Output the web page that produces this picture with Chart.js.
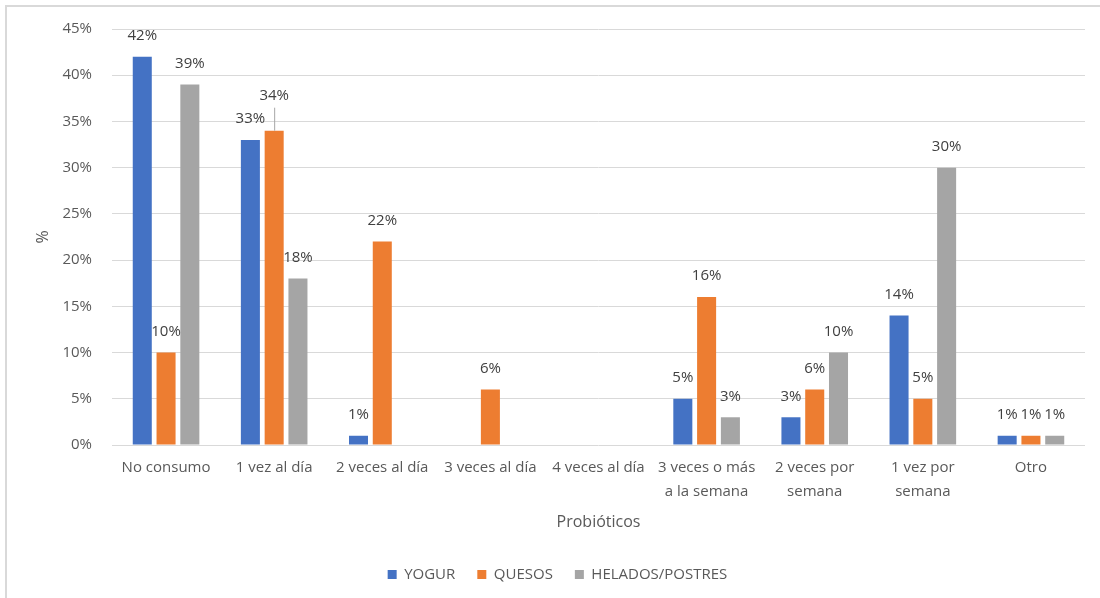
<!DOCTYPE html>
<html lang="es">
<head>
<meta charset="utf-8">
<title>Probióticos</title>
<script src="https://cdn.jsdelivr.net/npm/chart.js@4.4.1/dist/chart.umd.min.js"></script>
<style>
  html, body { margin: 0; padding: 0; background: #fff; }
  .wrap { position: relative; width: 1100px; height: 598px; overflow: hidden; }
  .frame { position: absolute; left: 5px; top: 5px; width: 1200px; height: 700px; border: 2px solid #d9d9d9; }
  canvas { position: absolute; left: 0; top: 0; }
</style>
</head>
<body>
<div class="wrap">
  <div class="frame"></div>
  <canvas id="chart" width="1100" height="598"></canvas>
</div>
<script>
// ----------------------------------------------------------------
//  Datos: frecuencia de consumo de probióticos (%)
// ----------------------------------------------------------------
const categorias = [
  'No consumo',
  '1 vez al día',
  '2 veces al día',
  '3 veces al día',
  '4 veces al día',
  ['3 veces o más', 'a la semana'],
  ['2 veces por', 'semana'],
  ['1 vez por', 'semana'],
  'Otro'
];
const yogur   = [42, 33, 1, null, null, 5, 3, 14, 1];
const quesos  = [10, 34, 22, 6, null, 16, 6, 5, 1];
const helados = [39, 18, null, null, null, 3, 10, 30, 1];
const ticksY  = [0, 5, 10, 15, 20, 25, 30, 35, 40, 45];

const FONT = '"Open Sans", "Noto Sans", sans-serif';
const GRIS_TEXTO = '#595959';

// ----------------------------------------------------------------
//  Etiquetas de valor sobre cada barra (con línea guía opcional)
// ----------------------------------------------------------------
const etiquetasPlugin = {
  id: 'etiquetas',
  afterDatasetsDraw(chart, args, opts) {
    const { ctx } = chart;
    ctx.save();
    ctx.font = `15px ${FONT}`;
    ctx.fillStyle = '#404040';
    ctx.textAlign = 'center';
    ctx.textBaseline = 'middle';
    chart.data.datasets.forEach((ds, di) => {
      const meta = chart.getDatasetMeta(di);
      meta.data.forEach((bar, i) => {
        const v = ds.data[i];
        if (v === null || v === undefined) return;
        const lift = (opts.levantar[di] && opts.levantar[di][i]) || 0;
        const y = bar.y - 21 - lift;
        if (lift) {
          ctx.strokeStyle = '#a6a6a6';
          ctx.lineWidth = 1;
          ctx.beginPath();
          ctx.moveTo(bar.x + 0.5, bar.y);
          ctx.lineTo(bar.x + 0.5, y + 12);
          ctx.stroke();
        }
        ctx.fillText(v + '%', bar.x, y);
      });
    });
    ctx.restore();
  }
};

new Chart(document.getElementById('chart'), {
  type: 'bar',
  data: {
    labels: categorias,
    datasets: [
      { label: 'YOGUR',           data: yogur,   backgroundColor: '#4472c4' },
      { label: 'QUESOS',          data: quesos,  backgroundColor: '#ed7d31' },
      { label: 'HELADOS/POSTRES', data: helados, backgroundColor: '#a5a5a5' }
    ]
  },
  options: {
    responsive: false,
    animation: false,
    layout: { padding: { left: 30, right: 15, top: 24, bottom: 6 } },
    datasets: {
      bar: { categoryPercentage: 0.66, barPercentage: 0.8, skipNull: false }
    },
    plugins: {
      legend: {
        position: 'bottom',
        labels: {
          boxWidth: 9, boxHeight: 9, padding: 22,
          color: GRIS_TEXTO,
          font: { family: FONT, size: 15 }
        }
      },
      tooltip: { enabled: false },
      etiquetas: { levantar: { 1: { 1: 14 } } }
    },
    scales: {
      x: {
        grid: { display: false },
        border: { display: false },
        ticks: {
          color: GRIS_TEXTO, padding: 3, maxRotation: 0, autoSkip: false,
          font: { family: FONT, size: 15, lineHeight: 1.6 }
        },
        title: {
          display: true, text: 'Probióticos', color: GRIS_TEXTO,
          font: { family: FONT, size: 16 }, padding: { top: 8, bottom: 13 }
        },
        afterFit: s => { s.height = 100; }
      },
      y: {
        min: 0, max: 45,
        afterBuildTicks: s => { s.ticks = ticksY.map(v => ({ value: v })); },
        grid: { color: '#d9d9d9', lineWidth: 1, drawTicks: false },
        border: { display: false },
        ticks: {
          color: GRIS_TEXTO, padding: 20,
          font: { family: FONT, size: 15 },
          callback: v => v + '%'
        },
        title: {
          display: true, text: '%', color: GRIS_TEXTO,
          font: { family: FONT, size: 16 }, padding: { top: 4, bottom: 0 }
        },
        afterFit: s => { s.width = 82; }
      }
    }
  },
  plugins: [etiquetasPlugin]
});
</script>
</body>
</html>
